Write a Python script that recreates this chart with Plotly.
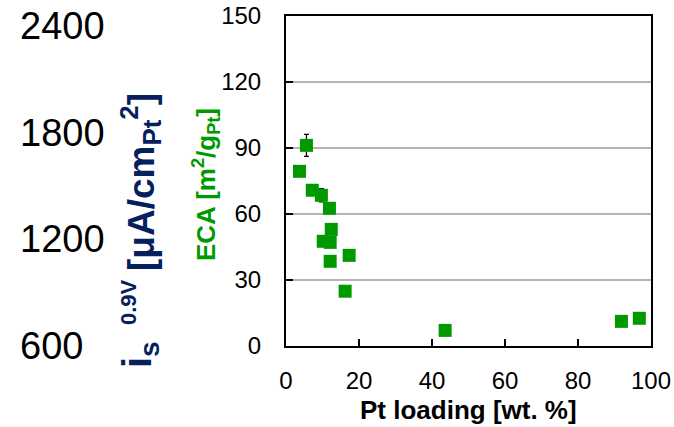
import plotly.graph_objects as go

# Data
pt_loading = [5.6, 3.7, 7.2, 9.7, 11.9, 12.4, 10.2, 12.1, 17.3, 12.1, 16.2, 43.6, 91.9, 96.8]
eca = [91.2, 79.4, 70.8, 68.5, 62.6, 53.0, 47.6, 47.1, 41.2, 38.5, 24.9, 7.1, 11.2, 12.6]
eca_err = [5.0, 0, 0, 3.0, 0, 0, 0, 0, 0, 0, 0, 0, 0, 0]
x_ticks = [0, 20, 40, 60, 80, 100]
eca_ticks = [0, 30, 60, 90, 120, 150]
is_ticks = [600, 1200, 1800, 2400]

W, H = 674, 427
ml, mr, mt, mb = 0, 23, 16, 81
pw = W - ml - mr
ph = H - mt - mb
x0 = (286 - ml) / pw


def px_x(px):
    return (px - ml) / pw


def px_y(py):
    return (H - mb - py) / ph


fig = go.Figure()
fig.add_trace(go.Scatter(
    x=pt_loading, y=eca, mode="markers",
    marker=dict(symbol="square", size=13, color="#009900", line=dict(width=0)),
    error_y=dict(type="data", array=eca_err, visible=True, color="black", thickness=1.3, width=2.5),
    showlegend=False, cliponaxis=False,
))
# invisible trace carrying the left i_s axis
fig.add_trace(go.Scatter(
    x=[50, 50], y=[is_ticks[0], is_ticks[-1]], mode="markers", yaxis="y2",
    marker=dict(size=1, opacity=0), showlegend=False, hoverinfo="skip",
))

FONT = "Liberation Sans, Arial, sans-serif"
NAVY = "#06205e"
fig.update_layout(
    width=W, height=H,
    margin=dict(l=ml, r=mr, t=mt, b=mb, autoexpand=False),
    plot_bgcolor="white", paper_bgcolor="white",
    font=dict(family=FONT, color="black"),
    xaxis=dict(
        domain=[x0, 1], range=[0, 100], tickvals=x_ticks,
        ticks="inside", ticklen=7, tickwidth=1.5, tickcolor="black",
        showline=True, linecolor="black", linewidth=2, mirror=True,
        showgrid=False, zeroline=False, automargin=False,
        tickfont=dict(size=24), ticklabelstandoff=12,
    ),
    yaxis=dict(
        range=[0, 150], tickvals=eca_ticks,
        ticks="inside", ticklen=7, tickwidth=1.5, tickcolor="black",
        showline=True, linecolor="black", linewidth=2, mirror=True,
        showgrid=True, gridcolor="#b4b4b4", gridwidth=2, zeroline=False,
        automargin=False,
        tickfont=dict(size=24), ticklabelstandoff=18,
    ),
    yaxis2=dict(
        overlaying="y", side="right", anchor="free", position=px_x(19),
        range=[600, 2453], tickvals=is_ticks,
        showline=False, showgrid=False, zeroline=False, ticks="",
        automargin=False, tickfont=dict(size=38),
    ),
    annotations=[
        dict(text="<b>Pt loading [wt. %]</b>", xref="paper", yref="paper",
             x=px_x(468), y=px_y(410), xanchor="center", yanchor="middle",
             showarrow=False, font=dict(size=26, color="black")),
        dict(text="<b>[μA/cm<sub>Pt</sub><sup>2</sup>]</b>", xref="paper", yref="paper",
             x=px_x(140), y=px_y(182), xanchor="center", yanchor="middle",
             textangle=-90, showarrow=False, font=dict(size=37, color=NAVY)),
        dict(text="<b>i<sub>s</sub></b>", xref="paper", yref="paper",
             x=px_x(140), y=px_y(355), xanchor="center", yanchor="middle",
             textangle=-90, showarrow=False, font=dict(size=40, color=NAVY)),
        dict(text="<b>0.9V</b>", xref="paper", yref="paper",
             x=px_x(128), y=px_y(302), xanchor="center", yanchor="middle",
             textangle=-90, showarrow=False, font=dict(size=22, color=NAVY)),
        dict(text="<b>ECA [m<sup>2</sup>/g<sub>Pt</sub>]</b>", xref="paper", yref="paper",
             x=px_x(206), y=px_y(185), xanchor="center", yanchor="middle",
             textangle=-90, showarrow=False, font=dict(size=26, color="#009900")),
    ],
)

fig.write_html("out.html", config={"displayModeBar": False},
               post_script="document.body.style.margin='0px';")
